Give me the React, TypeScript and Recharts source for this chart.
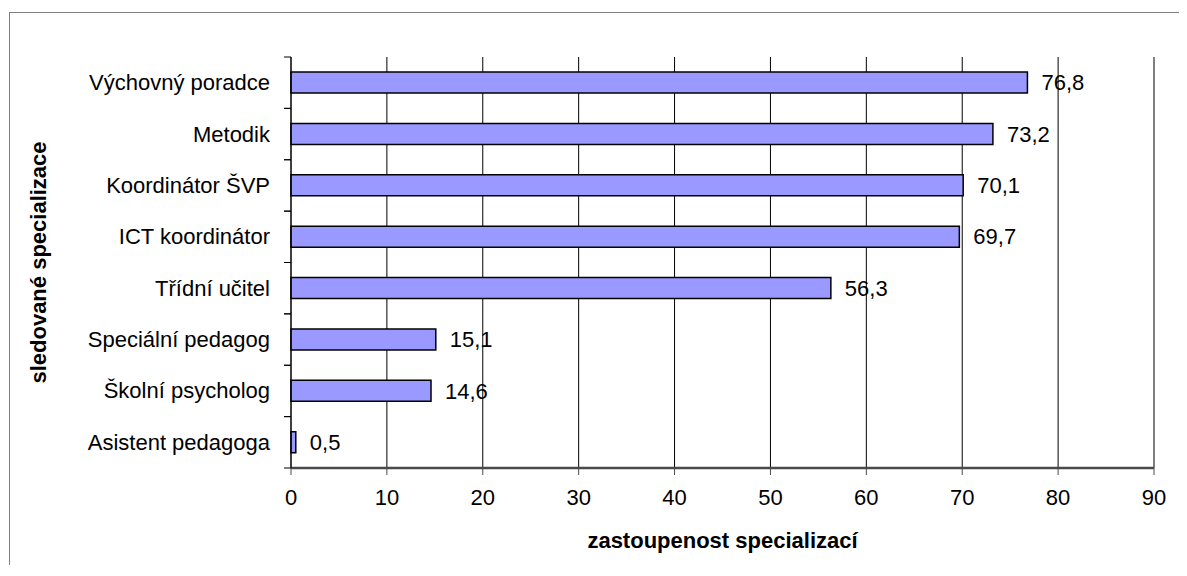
import React from "react";
import { BarChart, Bar, XAxis, YAxis, CartesianGrid, LabelList, ReferenceLine } from "recharts";

const categories = [
  "Výchovný poradce",
  "Metodik",
  "Koordinátor ŠVP",
  "ICT koordinátor",
  "Třídní učitel",
  "Speciální pedagog",
  "Školní psycholog",
  "Asistent pedagoga",
];
const values = [76.8, 73.2, 70.1, 69.7, 56.3, 15.1, 14.6, 0.5];
const xTicks = [0, 10, 20, 30, 40, 50, 60, 70, 80, 90];

const data = categories.map((name, i) => ({ name, value: values[i] }));

const FONT = "'Liberation Sans', Arial, sans-serif";

// category label plus tick marks on the band edges (like the Excel original)
function CategoryTick(props: any) {
  const { x, y, payload } = props;
  const half = payload && payload.offset ? payload.offset : 0;
  const axisX = x + 21;
  return (
    <g>
      <text x={x} y={y} textAnchor="end" dominantBaseline="central" fontSize={22} fill="#000" fontFamily={FONT}>
        {payload.value}
      </text>
      <line x1={axisX - 7} x2={axisX} y1={y - half} y2={y - half} stroke="#000" />
      <line x1={axisX - 7} x2={axisX} y1={y + half} y2={y + half} stroke="#000" />
    </g>
  );
}

function YTitle(props: any) {
  const vb = props.viewBox || {};
  const cx = vb.x + 28;
  const cy = vb.y + vb.height / 2;
  return (
    <text x={cx} y={cy} transform={`rotate(-90 ${cx} ${cy})`} textAnchor="middle" dominantBaseline="central"
      fontSize={22} fontWeight="bold" fill="#000" fontFamily={FONT}>
      sledované specializace
    </text>
  );
}

function XTitle(props: any) {
  const vb = props.viewBox || {};
  return (
    <text x={vb.x + vb.width / 2} y={vb.y + 72} textAnchor="middle" dominantBaseline="central"
      fontSize={22} fontWeight="bold" fill="#000" fontFamily={FONT}>
      zastoupenost specializací
    </text>
  );
}

export default function App() {
  return (
    <div style={{ position: "relative", left: 1, top: 4, width: 1170, height: 555, border: "1px solid #808080", fontFamily: FONT, background: "#fff" }}>
      <BarChart width={1170} height={555} data={data} layout="vertical" margin={{ top: 44, right: 26, bottom: 0, left: 0 }}>
        <CartesianGrid horizontal={false} stroke="#000" />
        <XAxis
          type="number"
          domain={[0, 90]}
          ticks={xTicks}
          interval={0}
          height={100}
          axisLine={{ stroke: "#4a4a4a", strokeWidth: 2.5 }}
          tickLine={{ stroke: "#4a4a4a" }}
          tickSize={7}
          tickMargin={14}
          tick={{ fontSize: 22, fill: "#000", fontFamily: FONT }}
          label={<XTitle />}
        />
        <XAxis xAxisId="top" orientation="top" type="number" domain={[0, 90]} height={0} tick={false} tickLine={false} axisLine={{ stroke: "#808080" }} />
        <YAxis
          type="category"
          dataKey="name"
          width={281}
          interval={0}
          tickSize={0}
          tickMargin={21}
          axisLine={{ stroke: "#000" }}
          tickLine={false}
          tick={<CategoryTick />}
          label={<YTitle />}
        />
        <ReferenceLine x={90} stroke="#808080" />
        <Bar dataKey="value" fill="#9999ff" stroke="#000" strokeWidth={1.5} barSize={21} isAnimationActive={false}>
          <LabelList
            dataKey="value"
            position="right"
            offset={14}
            formatter={(v: any) => String(v).replace(".", ",")}
            style={{ fontSize: 22, fill: "#000", fontFamily: FONT }}
          />
        </Bar>
      </BarChart>
    </div>
  );
}
